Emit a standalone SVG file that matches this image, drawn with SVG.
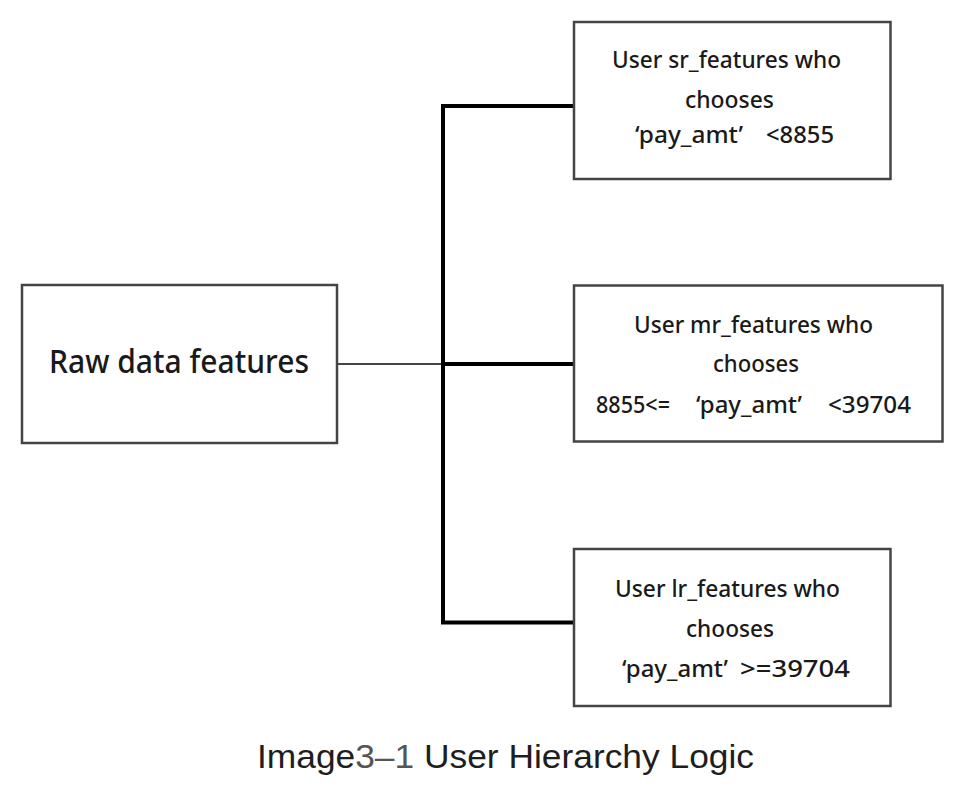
<svg xmlns="http://www.w3.org/2000/svg" width="966" height="788" viewBox="0 0 966 788">
<style>
.box{fill:#fff;stroke:#444;stroke-width:2.5}
.t{font-family:"Noto Sans","Open Sans","DejaVu Sans",sans-serif;font-size:23.5px;font-weight:500;fill:#1a1a1a}
.big{font-size:32px}
.thick{stroke:#000;stroke-width:4;fill:none}
.thin{stroke:#444;stroke-width:2;fill:none}
.cap{font-family:"Liberation Sans",Arial,sans-serif;font-size:33px;fill:#1e1e1e}
</style>
<rect width="966" height="788" fill="#fff"/>
<g id="connectors">
<line class="thin" x1="337" y1="364" x2="443" y2="364"/>
<polyline class="thick" points="574,106 443,106 443,622.5 574,622.5"/>
<line class="thick" x1="443" y1="364" x2="574" y2="364"/>
</g>
<g id="raw">
<rect class="box" x="22" y="285" width="315" height="158"/>
<text class="t big" x="49" y="373" textLength="260" lengthAdjust="spacingAndGlyphs">Raw data features</text>
</g>
<g id="sr">
<rect class="box" x="574" y="22" width="316.5" height="157"/>
<text class="t" x="612" y="68" textLength="229" lengthAdjust="spacingAndGlyphs">User sr_features who</text>
<text class="t" x="685" y="108" textLength="89" lengthAdjust="spacingAndGlyphs">chooses</text>
<text class="t"><tspan x="635" y="143" textLength="108" lengthAdjust="spacingAndGlyphs">‘pay_amt’</tspan><tspan x="766" y="143" textLength="68" lengthAdjust="spacingAndGlyphs">&lt;8855</tspan></text>
</g>
<g id="mr">
<rect class="box" x="574" y="285.5" width="368.5" height="156"/>
<text class="t" x="634" y="333" textLength="239" lengthAdjust="spacingAndGlyphs">User mr_features who</text>
<text class="t" x="713" y="372" textLength="86" lengthAdjust="spacingAndGlyphs">chooses</text>
<text class="t"><tspan x="596" y="413" textLength="74" lengthAdjust="spacingAndGlyphs">8855&lt;=</tspan><tspan x="696" y="413" textLength="106" lengthAdjust="spacingAndGlyphs">‘pay_amt’</tspan><tspan x="828" y="413" textLength="83" lengthAdjust="spacingAndGlyphs">&lt;39704</tspan></text>
</g>
<g id="lr">
<rect class="box" x="574" y="549" width="316.5" height="157"/>
<text class="t" x="615" y="597" textLength="225" lengthAdjust="spacingAndGlyphs">User lr_features who</text>
<text class="t" x="686" y="637" textLength="88" lengthAdjust="spacingAndGlyphs">chooses</text>
<text class="t"><tspan x="622" y="677" textLength="106" lengthAdjust="spacingAndGlyphs">‘pay_amt’</tspan><tspan x="740" y="677" textLength="110" lengthAdjust="spacingAndGlyphs">&gt;=39704</tspan></text>
</g>
<g id="caption">
<text class="cap" x="257" y="768" textLength="497" lengthAdjust="spacingAndGlyphs">Image<tspan fill="#555">3–1</tspan> User Hierarchy Logic</text>
</g>
</svg>
